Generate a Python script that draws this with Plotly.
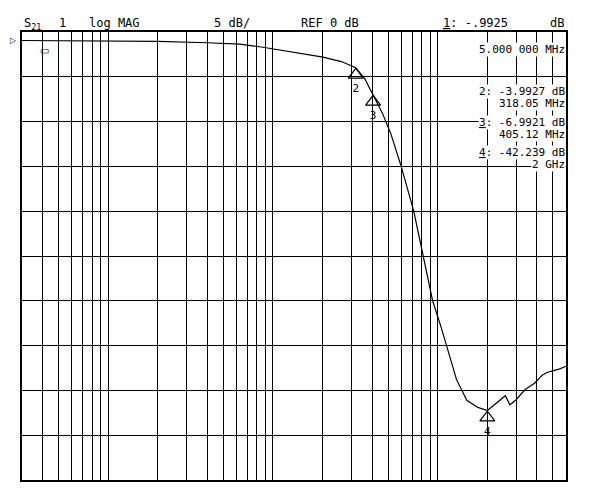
import plotly.graph_objects as go

freq_mhz = [3, 5, 10, 20, 40, 63, 87, 130, 201, 260, 318, 360, 405, 460, 520, 600, 715, 820, 931, 1050, 1150, 1300, 1500, 1750, 2000, 2200, 2400, 2570, 2740, 2970, 3390, 3870, 4300, 4600, 5050, 5500, 6000]
mag_db = [-0.95, -0.99, -1.0, -1.05, -1.2, -1.35, -1.7, -2.2, -2.8, -3.3, -3.99, -5.2, -6.99, -9.0, -11.4, -15.0, -20.0, -25.0, -30.0, -33.0, -35.5, -38.8, -41.1, -41.9, -42.24, -41.6, -41.1, -40.6, -41.6, -41.1, -39.9, -39.2, -38.3, -38.0, -37.8, -37.6, -37.3]

mk_f = [318.05, 405.12, 2000]
mk_db = [-3.9927, -6.9921, -42.239]
mk_lbl = ["2", "3", "4"]

font = dict(family="DejaVu Sans Mono", size=12, color="black")
fig = go.Figure()
fig.add_trace(go.Scatter(x=freq_mhz, y=mag_db, mode="lines", line=dict(color="black", width=1.2), hoverinfo="skip"))
fig.add_trace(go.Scatter(x=mk_f, y=[v - 0.8 for v in mk_db], mode="markers+text", text=mk_lbl,
                         textposition="bottom center", textfont=dict(family="DejaVu Sans Mono", size=11, color="black"),
                         marker=dict(symbol="triangle-up-open", size=13, color="black", line=dict(width=1.2))))
fig.add_trace(go.Scatter(x=[5], y=[1.2], mode="markers", marker=dict(symbol="triangle-down-open", size=12, color="black", line=dict(width=1.2)), cliponaxis=False))

ax = dict(showline=True, linecolor="black", linewidth=1.5, mirror=True, showgrid=True, gridcolor="black", gridwidth=1,
          showticklabels=False, ticks="", zeroline=False)
fig.update_xaxes(type="log", range=[0.4771, 3.7782], dtick="D1", **ax)
fig.update_yaxes(range=[-50, 0], dtick=5, **ax)

anns = [
    (0.0, 1.04, "S<sub>21</sub>", "left"), (0.065, 1.04, "1", "left"),
    (0.12, 1.04, "log MAG", "left"), (0.35, 1.04, "5 dB/", "left"), (0.51, 1.04, "REF 0 dB", "left"),
    (0.77, 1.04, "<u>1</u>: -.9925", "left"), (1.0, 1.04, "dB", "right"),
]
for x, y, t, a in anns:
    fig.add_annotation(x=x, y=y, xref="paper", yref="paper", text=t, showarrow=False, xanchor=a, font=font)
for y, t in [(0.978, "5.000 000 MHz"), (0.885, "2: -3.9927 dB"), (0.858, "318.05 MHz"), (0.815, "<u>3</u>: -6.9921 dB"),
             (0.788, "405.12 MHz"), (0.748, "<u>4</u>: -42.239 dB"), (0.721, "2 GHz")]:
    fig.add_annotation(x=1.0, y=y, xref="paper", yref="paper", text=t, showarrow=False, xanchor="right",
                       font=dict(family="DejaVu Sans Mono", size=11, color="black"), bgcolor="white", borderpad=0)
fig.add_annotation(x=-0.005, y=1.0, xref="paper", yref="paper", text="▷", showarrow=False, xanchor="right", font=dict(size=8, color="black"))
fig.add_annotation(x=0.03, y=0.98, xref="paper", yref="paper", text="▭", showarrow=False, font=dict(size=10, color="black"))

fig.update_layout(width=591, height=501, margin=dict(l=14, r=33, t=24, b=29), showlegend=False,
                  plot_bgcolor="white", paper_bgcolor="white")
fig.write_html("out.html")
